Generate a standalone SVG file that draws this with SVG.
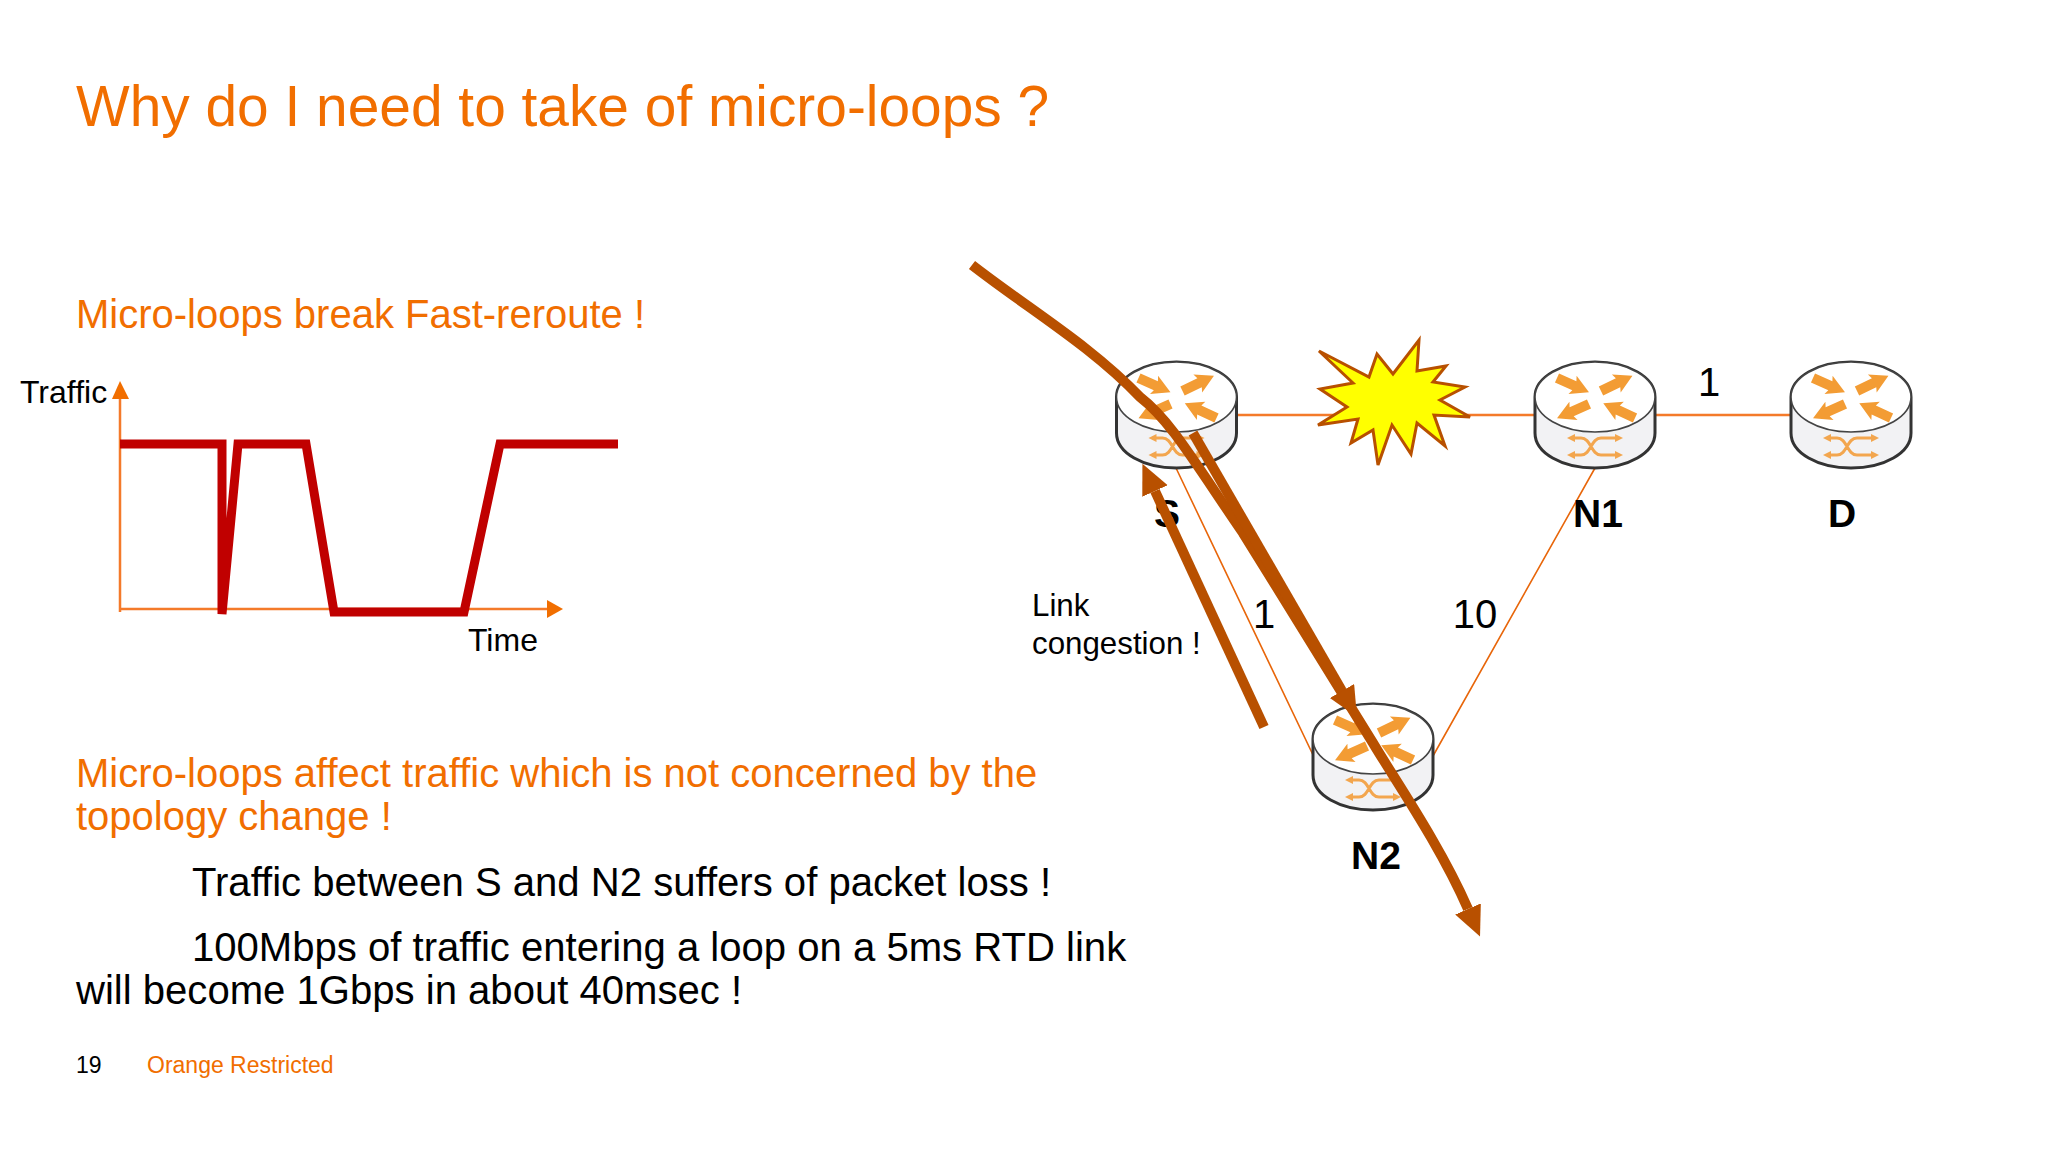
<svg xmlns="http://www.w3.org/2000/svg" xmlns:xlink="http://www.w3.org/1999/xlink" width="2048" height="1152" viewBox="0 0 2048 1152">
<style>
text{font-family:"Liberation Sans",Arial,sans-serif}
.lab{font-size:39px;font-weight:700;fill:#000;text-anchor:middle}
.num{font-size:40px;fill:#000;text-anchor:middle}
.h{font-size:40px;fill:#f16e00}
.b{font-size:40.1px;fill:#000}
.small{font-size:31.3px;fill:#000}
.link{stroke:#f47a2a;stroke-width:2.5;fill:none}
.thin{stroke:#e8660a;stroke-width:1.6;fill:none}
.flow{stroke:#b85000;stroke-width:10;fill:none}
.red{stroke:#c00000;stroke-width:9;fill:none}
</style>
<defs>
<polygon id="a" points="0,-5 19,-5 17,-10 35,0 17,10 19,5 0,5" fill="#f39c34"/>
<g id="router">
<path d="M-60,0C-60,-20-33,-35 0,-35S60,-20 60,0V36C60,56 33,71 0,71S-60,56-60,36Z" fill="#f2f2f4" stroke="#333" stroke-width="3"/>
<ellipse cx="0" cy="0" rx="60" ry="35" fill="#fff" stroke="#444" stroke-width="1.6"/>
<use xlink:href="#a" transform="translate(-38,-19) rotate(24)"/>
<use xlink:href="#a" transform="translate(6,-6) rotate(-26)"/>
<use xlink:href="#a" transform="translate(-6,7) rotate(156)"/>
<use xlink:href="#a" transform="translate(40,21) rotate(-155)"/>
<path d="M-24,41H-14C-4,41-4,58 6,58H24M-24,58H-14C-4,58-4,41 6,41H24" fill="none" stroke="#f3a64e" stroke-width="3"/>
<path d="M-28,41l8,-4v8zM-28,58l8,-4v8zM28,41l-8,-4v8zM28,58l-8,-4v8z" fill="#f3a64e"/>
</g>
<marker id="ah" markerUnits="userSpaceOnUse" markerWidth="32" markerHeight="30" refX="0" refY="14" orient="auto"><path d="M0,0L30,14L0,28Z" fill="#b85000"/></marker>
</defs>
<rect width="2048" height="1152" fill="#fff"/>
<text x="76" y="126" font-size="56.85" fill="#f16e00">Why do I need to take of micro-loops ?</text>
<text class="h" x="76" y="328">Micro-loops break Fast-reroute !</text>
<text class="h" x="76" y="787">Micro-loops affect traffic which is not concerned by the</text>
<text class="h" x="76" y="830">topology change !</text>
<text class="b" x="192" y="896">Traffic between S and N2 suffers of packet loss !</text>
<text class="b" x="192" y="961">100Mbps of traffic entering a loop on a 5ms RTD link</text>
<text class="b" x="76" y="1004">will become 1Gbps in about 40msec !</text>
<text x="76" y="1073" font-size="23" fill="#000">19</text>
<text x="147" y="1073" font-size="23" fill="#f16e00">Orange Restricted</text>
<g id="chart">
<path class="link" d="M120,395V612M120,609H550"/>
<polygon points="120,381 112,399 129,399" fill="#f16e00"/>
<polygon points="563,609 547,600 547,618" fill="#f16e00"/>
<path class="red" d="M120,444H222V614L238,444H306L334,612H464L500,444H618"/>
<text x="20" y="403" font-size="32" fill="#000">Traffic</text>
<text x="468" y="651" font-size="32" fill="#000">Time</text>
</g>
<g id="connectors">
<path class="link" d="M1236,415H1535M1655,415H1791"/>
<path class="thin" d="M1176,468L1314,757M1595,468L1433,756"/>
</g>
<g id="burst"><polygon points="1319,351 1369,377 1377,354 1393,374 1419,340 1417,371 1446,366 1433,382 1465,387 1440,400 1470,417 1434,415 1445,446 1417,423 1411,454 1392,425 1378,465 1373,430 1351,443 1358,419 1318,425 1347,407 1320,389 1353,383" fill="#ff0" stroke="#b85000" stroke-width="3"/></g>
<g id="S"><use xlink:href="#router" transform="translate(1176.500,397)"/><text class="lab" x="1167" y="527">S</text></g>
<g id="N1"><use xlink:href="#router" transform="translate(1595,397)"/><text class="lab" x="1598" y="527">N1</text></g>
<g id="D"><use xlink:href="#router" transform="translate(1851,397)"/><text class="lab" x="1842" y="527">D</text></g>
<g id="N2"><use xlink:href="#router" transform="translate(1373,739)"/><text class="lab" x="1376" y="869">N2</text></g>
<text class="num" x="1709" y="396">1</text>
<text class="num" x="1264" y="628">1</text>
<text class="num" x="1475" y="628">10</text>
<text class="small" x="1032" y="616">Link</text>
<text class="small" x="1032" y="654">congestion !</text>
<g id="flows">
<path class="flow" d="M972,265C1030,310 1090,345 1140,397C1170,420 1193,460 1243,533C1300,625 1340,690 1373,743C1395,780 1440,845 1468,909" marker-end="url(#ah)"/>
<path class="flow" d="M1193,433L1342,691" marker-end="url(#ah)"/>
<path class="flow" d="M1264,727L1155,491" marker-end="url(#ah)"/>
</g>
</svg>
